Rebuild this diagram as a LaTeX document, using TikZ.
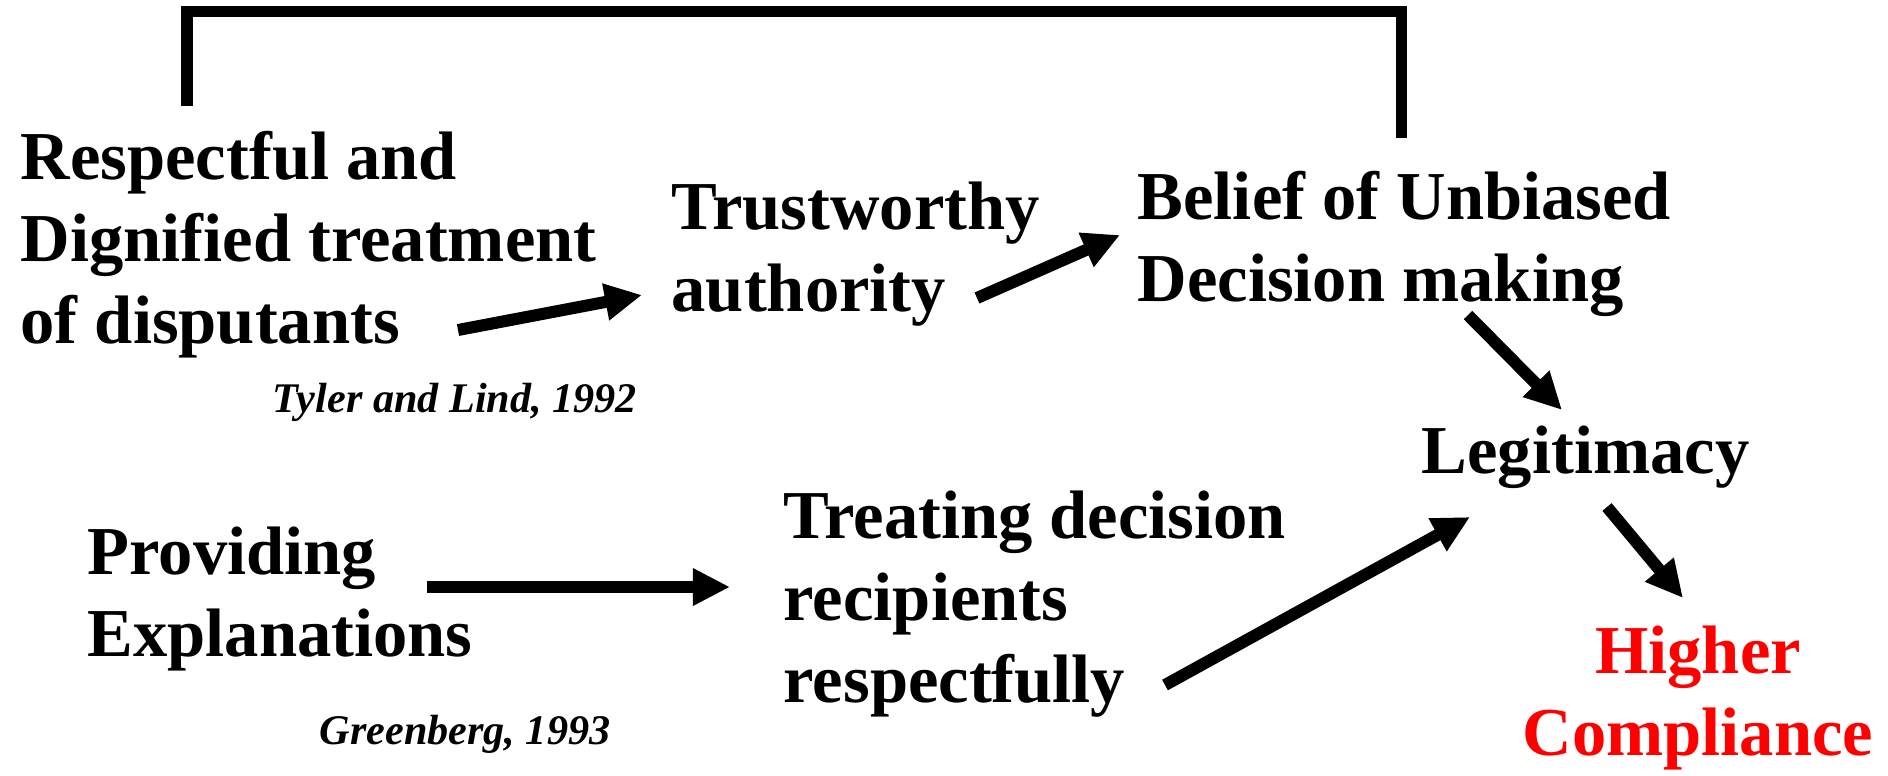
\documentclass[tikz,border=0pt]{standalone}
\usepackage{fontspec}
\setmainfont{Liberation Serif}
\usetikzlibrary{arrows.meta}

\begin{document}
\begin{tikzpicture}[x=0.01cm, y=-0.01cm,
	concept/.style={anchor=base west, inner sep=0, align=left, font=\fontsize{19.5pt}{23.3pt}\selectfont\bfseries},
	cite/.style={anchor=base west, inner sep=0, font=\fontsize{12pt}{14pt}\selectfont\bfseries\itshape},
	arrow/.style={line width=0.12cm, -{Triangle[length=0.37cm, width=0.35cm]}}]
	\useasboundingbox (0, 0) rectangle (1888, 775);

	% concepts (placed at the baseline of their last line)
	\node[concept] (respect) at (20, 343) {Respectful and\\Dignified treatment\\of disputants};
	\node[cite] (tyler) at (272, 412) {Tyler and Lind, 1992};
	\node[concept] (trust) at (671, 311) {Trustworthy\\authority};
	\node[concept] (belief) at (1137, 301) {Belief of Unbiased\\Decision making};
	\node[concept] (legit) at (1421, 473) {Legitimacy};
	\node[concept] (explain) at (87, 656) {Providing\\Explanations};
	\node[cite] (green) at (319, 744) {Greenberg, 1993};
	\node[concept] (treat) at (783, 702) {Treating decision\\recipients\\respectfully};
	\node[concept, anchor=base, align=center, text=red] (comply) at (1698, 755) {Higher\\Compliance};

	% arrow ends
	\coordinate (respect-out) at (458, 330);
	\coordinate (trust-in) at (642, 295);
	\coordinate (trust-out) at (977, 298);
	\coordinate (belief-in) at (1120, 235);
	\coordinate (belief-out) at (1468, 315);
	\coordinate (legit-in) at (1562, 410);
	\coordinate (legit-out) at (1607, 507);
	\coordinate (comply-in) at (1683, 598);
	\coordinate (explain-out) at (427, 587);
	\coordinate (treat-in) at (730, 587);
	\coordinate (treat-out) at (1165, 685);
	\coordinate (legit-in2) at (1470, 517);

	% upper chain
	\draw[arrow] (respect-out) -- (trust-in);
	\draw[arrow] (trust-out) -- (belief-in);
	\draw[arrow] (belief-out) -- (legit-in);
	\draw[arrow] (legit-out) -- (comply-in);

	% lower chain
	\draw[arrow] (explain-out) -- (treat-in);
	\draw[arrow] (treat-out) -- (legit-in2);

	% top bracket
	\coordinate (bracket-l) at (187, 106);
	\coordinate (bracket-top) at (800, 11);
	\coordinate (bracket-r) at (1401, 138);
	\draw[line width=0.11cm] (bracket-l) |- (bracket-top) -| (bracket-r);
\end{tikzpicture}
\end{document}
